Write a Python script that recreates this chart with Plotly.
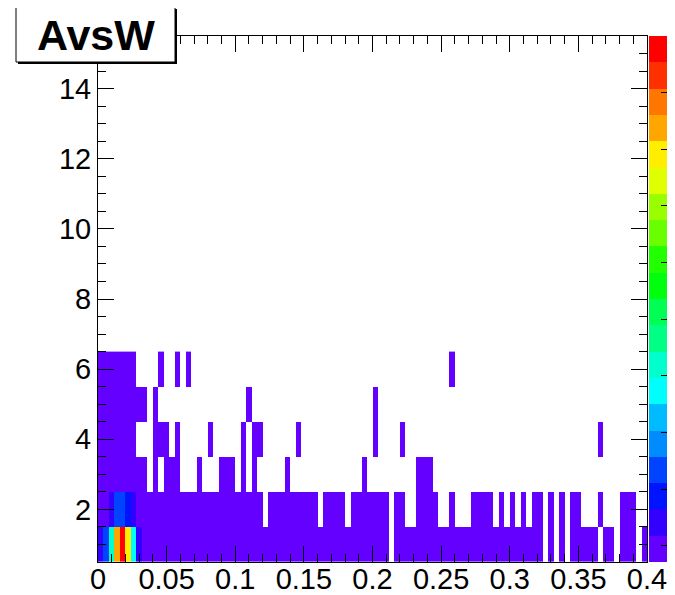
import colorsys
import plotly.graph_objects as go

# ---------------- data ----------------
title_text = "AvsW"
n_bins_x = 100
x_low, x_high = 0.0, 0.4
y_centers = [1, 2, 3, 4, 5, 6]
y_low, y_high = 0.5, 15.5
z_min, z_max = 0, 65

x_tick_vals = [0, 0.05, 0.1, 0.15, 0.2, 0.25, 0.3, 0.35, 0.4]
x_tick_text = ["0", "0.05", "0.1", "0.15", "0.2", "0.25", "0.3", "0.35", "0.4"]
y_tick_vals = [2, 4, 6, 8, 10, 12, 14]
y_tick_text = ["2", "4", "6", "8", "10", "12", "14"]

counts_y1 = [5, 11, 24, 53, 65, 50, 21, 5, 1, 1,
             1, 1, 1, 1, 1, 1, 1, 1, 1, 1,
             1, 1, 1, 1, 1, 1, 1, 1, 1, 1,
             1, 1, 1, 1, 1, 1, 1, 1, 1, 1,
             1, 1, 1, 1, 1, 1, 1, 1, 1, 1,
             1, 1, 1, 0, 1, 1, 1, 1, 1, 1,
             1, 1, 1, 1, 1, 1, 1, 1, 1, 1,
             1, 1, 1, 1, 1, 1, 1, 1, 1, 1,
             1, 0, 1, 0, 1, 0, 1, 1, 1, 1,
             1, 0, 1, 1, 0, 1, 1, 1, 0, 1]
counts_y2 = [2, 3, 5, 12, 11, 8, 5, 1, 1, 1,
             1, 1, 1, 1, 1, 1, 1, 1, 1, 1,
             1, 1, 1, 1, 1, 1, 1, 1, 1, 1,
             0, 1, 1, 1, 1, 1, 1, 1, 1, 1,
             0, 1, 1, 1, 1, 0, 1, 1, 1, 1,
             1, 1, 1, 0, 1, 1, 0, 0, 1, 1,
             1, 1, 0, 0, 1, 0, 0, 0, 1, 1,
             1, 1, 0, 1, 0, 1, 0, 1, 0, 1,
             1, 0, 1, 0, 1, 0, 1, 1, 0, 0,
             0, 1, 0, 0, 0, 1, 1, 1, 0, 0]
counts_y3 = [1, 1, 1, 1, 1, 1, 1, 1, 1, 0,
             1, 0, 1, 1, 1, 0, 0, 0, 1, 0,
             0, 0, 1, 1, 1, 0, 1, 0, 1, 0,
             0, 0, 0, 0, 1, 0, 0, 0, 0, 0,
             0, 0, 0, 0, 0, 0, 0, 0, 1, 0,
             0, 0, 0, 0, 0, 0, 0, 0, 1, 1,
             1, 0, 0, 0, 0, 0, 0, 0, 0, 0,
             0, 0, 0, 0, 0, 0, 0, 0, 0, 0,
             0, 0, 0, 0, 0, 0, 0, 0, 0, 0,
             0, 0, 0, 0, 0, 0, 0, 0, 0, 0]
counts_y4 = [1, 1, 1, 1, 1, 1, 1, 0, 0, 0,
             1, 1, 1, 0, 1, 0, 0, 0, 0, 0,
             1, 0, 0, 0, 0, 0, 1, 0, 1, 1,
             0, 0, 0, 0, 0, 0, 1, 0, 0, 0,
             0, 0, 0, 0, 0, 0, 0, 0, 0, 0,
             1, 0, 0, 0, 0, 1, 0, 0, 0, 0,
             0, 0, 0, 0, 0, 0, 0, 0, 0, 0,
             0, 0, 0, 0, 0, 0, 0, 0, 0, 0,
             0, 0, 0, 0, 0, 0, 0, 0, 0, 0,
             0, 1, 0, 0, 0, 0, 0, 0, 0, 0]
counts_y5 = [1, 1, 1, 1, 1, 1, 1, 1, 1, 0,
             1, 0, 0, 0, 0, 0, 0, 0, 0, 0,
             0, 0, 0, 0, 0, 0, 0, 1, 0, 0,
             0, 0, 0, 0, 0, 0, 0, 0, 0, 0,
             0, 0, 0, 0, 0, 0, 0, 0, 0, 0,
             1, 0, 0, 0, 0, 0, 0, 0, 0, 0,
             0, 0, 0, 0, 0, 0, 0, 0, 0, 0,
             0, 0, 0, 0, 0, 0, 0, 0, 0, 0,
             0, 0, 0, 0, 0, 0, 0, 0, 0, 0,
             0, 0, 0, 0, 0, 0, 0, 0, 0, 0]
counts_y6 = [1, 1, 1, 1, 1, 1, 1, 0, 0, 0,
             0, 1, 0, 0, 1, 0, 1, 0, 0, 0,
             0, 0, 0, 0, 0, 0, 0, 0, 0, 0,
             0, 0, 0, 0, 0, 0, 0, 0, 0, 0,
             0, 0, 0, 0, 0, 0, 0, 0, 0, 0,
             0, 0, 0, 0, 0, 0, 0, 0, 0, 0,
             0, 0, 0, 0, 1, 0, 0, 0, 0, 0,
             0, 0, 0, 0, 0, 0, 0, 0, 0, 0,
             0, 0, 0, 0, 0, 0, 0, 0, 0, 0,
             0, 0, 0, 0, 0, 0, 0, 0, 0, 0]

# ---------------- derived ----------------
bin_w = (x_high - x_low) / n_bins_x
x_centers = [x_low + bin_w * (i + 0.5) for i in range(n_bins_x)]
rows = [counts_y1, counts_y2, counts_y3, counts_y4, counts_y5, counts_y6]
z = [[(v if v > 0 else None) for v in r] for r in rows]


def root_color(level, ndiv=20, ncolors=50):
    p = int((level + 0.99) * ncolors / ndiv)
    hue = 280.0 - (p + 1) * 280.0 / ncolors
    r, g, b = colorsys.hls_to_rgb(hue / 360.0, 0.5, 1.0)
    return "rgb(%d,%d,%d)" % (round(r * 255), round(g * 255), round(b * 255))


ndiv = 20
colorscale = []
for k in range(ndiv):
    c = root_color(k)
    colorscale.append([k / ndiv, c])
    colorscale.append([(k + 1) / ndiv, c])

# the page body has an 8px margin; lay the figure out in window pixels
OFF = 8
WIN_W, WIN_H = 675, 595
W, H = WIN_W - OFF + 20, WIN_H - OFF
FRAME_L, FRAME_R, FRAME_T, FRAME_B = 98, 647, 36, 562  # window pixels
ML, MT = FRAME_L - OFF, FRAME_T - OFF
MR, MB = W - (FRAME_R - OFF), H - (FRAME_B - OFF)
PW, PH = W - ML - MR, H - MT - MB


def px_x(px):
    return (px - OFF - ML) / PW


def px_y(py):
    return (H - MB - (py - OFF)) / PH


fig = go.Figure()
fig.add_trace(go.Heatmap(
    x=x_centers, y=y_centers, z=z,
    zmin=z_min, zmax=z_max, colorscale=colorscale,
    zsmooth=False, hoverongaps=False,
    colorbar=dict(
        x=px_x(649), xanchor="left", xpad=0,
        y=0.5, yanchor="middle", len=1, lenmode="fraction", ypad=0,
        thickness=18, outlinewidth=0,
        ticks="inside", ticklen=6, tickwidth=1, tickcolor="black",
        tick0=2, dtick=7, showticklabels=False,
    ),
))

axis_font = dict(family="Liberation Sans, Arial, sans-serif", size=29, color="black")
common = dict(
    showgrid=False, zeroline=False, showline=True, linecolor="black", linewidth=1,
    mirror="ticks", ticks="inside", ticklen=16, tickwidth=1, tickcolor="black",
    tickfont=axis_font,
)
fig.update_xaxes(range=[x_low, x_high], tickmode="array", tickvals=x_tick_vals,
                 ticktext=x_tick_text, ticklabelstandoff=-9,
                 minor=dict(ticks="inside", ticklen=8, tickwidth=1, tickcolor="black",
                            tick0=0, dtick=0.01, showgrid=False),
                 **common)
fig.update_yaxes(range=[y_low, y_high], tickmode="array", tickvals=y_tick_vals,
                 ticktext=y_tick_text,
                 minor=dict(ticks="inside", ticklen=8, tickwidth=1, tickcolor="black",
                            tick0=0.5, dtick=0.5, showgrid=False),
                 **common)

# title box with shadow (window pixels)
bx0, bx1, by0, by1 = 16, 175, 7, 62
fig.add_shape(type="rect", xref="paper", yref="paper", layer="above",
              x0=px_x(bx0 + 2), x1=px_x(bx1 + 2), y0=px_y(by1 + 2), y1=px_y(by0 + 2),
              fillcolor="black", line=dict(width=0))
fig.add_shape(type="rect", xref="paper", yref="paper", layer="above",
              x0=px_x(bx0), x1=px_x(bx1), y0=px_y(by1), y1=px_y(by0),
              fillcolor="white", line=dict(color="black", width=1))
fig.add_annotation(xref="paper", yref="paper", x=px_x((bx0 + bx1) / 2), y=px_y((by0 + by1) / 2),
                   text="<b>%s</b>" % title_text, showarrow=False,
                   font=dict(family="Liberation Sans, Arial, sans-serif", size=43, color="black"),
                   xanchor="center", yanchor="middle")

fig.update_layout(width=W, height=H,
                  margin=dict(l=ML, r=MR, t=MT, b=MB, pad=0, autoexpand=False),
                  paper_bgcolor="white", plot_bgcolor="white", showlegend=False)

fig.write_html("out.html")
